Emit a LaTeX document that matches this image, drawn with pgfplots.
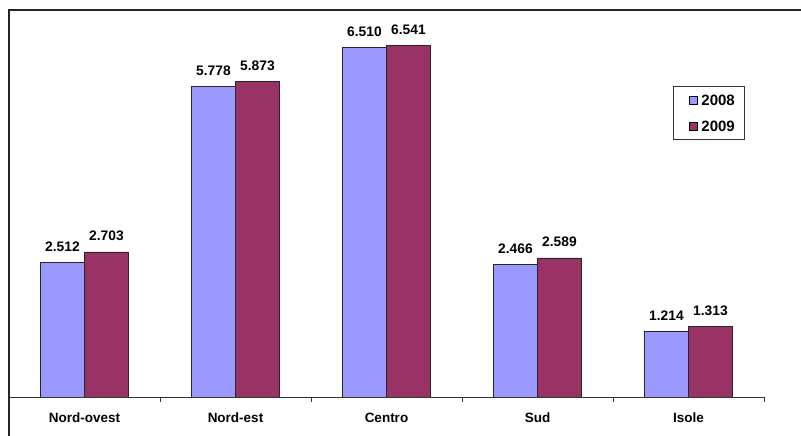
\documentclass[border=0pt]{standalone}
\usepackage{pgfplots}
\pgfplotsset{compat=1.18}
\usepackage{fontspec}
\setmainfont{Liberation Sans}
\definecolor{cblue}{HTML}{9999FF}
\definecolor{cred}{HTML}{993366}
\begin{document}
\begin{tikzpicture}[x=1pt,y=1pt]
\useasboundingbox (0,0) rectangle (801,436);
\draw[line width=1.3pt, black!85] (9,0) -- (9,426) -- (801,426);
\begin{axis}[
  at={(9pt,39pt)}, anchor=south west,
  scale only axis, width=755pt, height=387pt,
  xmin=-0.5, xmax=4.5, ymin=0, ymax=7.207,
  axis x line*=bottom, axis y line=none,
  x axis line style={-, line width=0.8pt, black!80},
  xtick={-0.5,0.5,1.5,2.5,3.5,4.5}, xticklabels={},
  tick align=outside, major tick length=5pt,
  x tick style={line width=0.8pt, black!80},
  extra x ticks={0,1,2,3,4},
  extra x tick labels={Nord-ovest,Nord-est,Centro,Sud,Isole},
  extra x tick style={major tick length=0pt,
     tick label style={anchor=base, yshift=-25.7pt, inner sep=0pt,
       font=\fontsize{13.5}{15}\selectfont\bfseries}},
  ybar=0pt, bar width=44pt,
  nodes near coords,
  /pgf/number format/.cd, fixed, fixed zerofill, precision=3, use period, 1000 sep={}, assume math mode=true,
  /pgfplots/.cd,
  every node near coord/.append style={anchor=base, inner sep=0pt, yshift=11pt,
     font=\fontsize{13.8}{15}\selectfont\bfseries, text=black},
  legend style={at={(rel axis cs:0.8795,0.8036)}, anchor=north west,
     draw=black!80, line width=0.8pt, inner xsep=8pt, inner ysep=6pt, row sep=11.2pt,
     font=\fontsize{15}{16}\selectfont\bfseries,
     nodes={inner sep=2pt, text height=10.8pt, text depth=0pt}},
  legend image code/.code={\path[draw=none, fill=none] (-8pt,0) -- (10pt,0);
     \draw[#1, line width=0.6pt, draw=black] (0pt,-4pt) rectangle (8pt,4pt);},
]
\addplot[fill=cblue, draw=black!85, line width=0.7pt] coordinates {(0,2.512) (1,5.778) (2,6.510) (3,2.466) (4,1.214)};
\addplot[fill=cred, draw=black!85, line width=0.7pt] coordinates {(0,2.703) (1,5.873) (2,6.541) (3,2.589) (4,1.313)};
\legend{2008,2009}
\end{axis}
\end{tikzpicture}
\end{document}
